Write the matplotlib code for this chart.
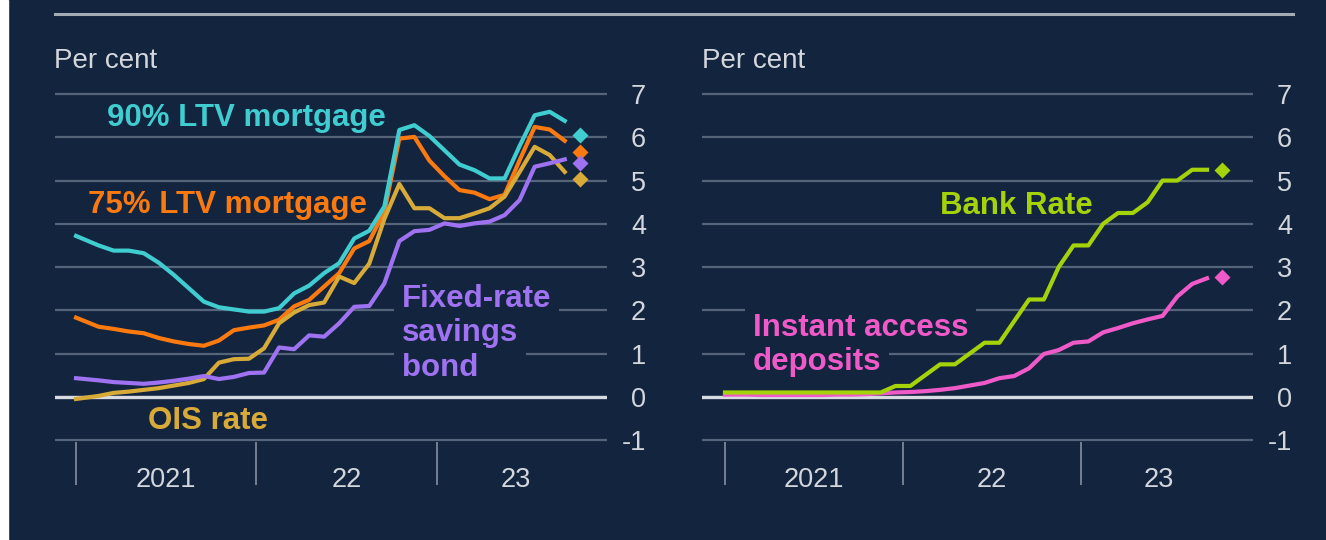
import numpy as np
import matplotlib
matplotlib.use('Agg')
from matplotlib import pyplot as plt
from matplotlib.lines import Line2D
from matplotlib.patches import Rectangle

plt.rcParams['font.family'] = 'Liberation Sans'
plt.rcParams['axes.unicode_minus'] = False

# Monthly observations Jan 2021 - Sep 2023, x = months since start of 2021 (mid-month)
months = np.arange(33) + 0.5
months[0] = 0.0  # series start at the left edge of 2021

ltv90 = [3.72, 3.50, 3.38, 3.38, 3.32, 3.10, 2.82, 2.51, 2.20, 2.07, 2.02, 1.97,
         1.97, 2.05, 2.39, 2.57, 2.86, 3.09, 3.66, 3.84, 4.40, 6.17, 6.28, 6.03,
         5.70, 5.37, 5.24, 5.05, 5.05, 5.80, 6.51, 6.59, 6.38]
ltv75 = [1.83, 1.62, 1.57, 1.51, 1.47, 1.36, 1.28, 1.22, 1.18, 1.30, 1.54, 1.60,
         1.65, 1.78, 2.09, 2.24, 2.55, 2.86, 3.43, 3.60, 4.28, 5.97, 6.01, 5.46,
         5.10, 4.78, 4.72, 4.57, 4.67, 5.47, 6.24, 6.18, 5.92]
ois_rate = [-0.05, 0.02, 0.09, 0.12, 0.16, 0.20, 0.26, 0.32, 0.41, 0.79, 0.87, 0.88,
            1.12, 1.70, 1.95, 2.12, 2.18, 2.78, 2.63, 3.08, 4.11, 4.92, 4.36, 4.36,
            4.13, 4.13, 4.24, 4.36, 4.63, 5.20, 5.78, 5.59, 5.20]
fixed_bond = [0.43, 0.38, 0.34, 0.32, 0.30, 0.33, 0.37, 0.42, 0.48, 0.41, 0.46, 0.55,
              0.56, 1.14, 1.10, 1.42, 1.39, 1.70, 2.08, 2.10, 2.62, 3.60, 3.83, 3.86,
              4.01, 3.95, 4.01, 4.05, 4.20, 4.55, 5.32, 5.40, 5.49]

bank_rate = [0.1, 0.1, 0.1, 0.1, 0.1, 0.1, 0.1, 0.1, 0.1, 0.1, 0.1, 0.25,
             0.25, 0.5, 0.75, 0.75, 1.0, 1.25, 1.25, 1.75, 2.25, 2.25, 3.0, 3.5,
             3.5, 4.0, 4.25, 4.25, 4.5, 5.0, 5.0, 5.25, 5.25]
instant_access = [0.05, 0.05, 0.04, 0.04, 0.04, 0.04, 0.04, 0.05, 0.05, 0.06, 0.08, 0.10,
                  0.11, 0.13, 0.16, 0.20, 0.26, 0.32, 0.43, 0.48, 0.66, 0.99, 1.08, 1.25,
                  1.28, 1.49, 1.59, 1.70, 1.79, 1.87, 2.32, 2.61, 2.74]

# Latest (Oct 2023) observations shown as diamonds
latest_month = 33.5
latest_ltv90 = 6.05
latest_ltv75 = 5.66
latest_fixed_bond = 5.40
latest_ois = 5.03
latest_bank_rate = 5.25
latest_instant = 2.76

year_starts = [0, 12, 24]
year_centres = [6, 18, 29.25]
year_labels = ['2021', '22', '23']
y_ticks = list(range(-1, 8))

# colours
bg = '#13243f'
grid_col = '#56647a'
text_col = '#d3d7dd'
cyan = '#3fcdd0'
orange = '#fb7a10'
gold = '#d8aa38'
purple = '#9f72f2'
green = '#a5d30a'
pink = '#f05ac8'

W, H = 1326, 540
fig = plt.figure(figsize=(W / 100, H / 100), dpi=100)
fig.patch.set_facecolor(bg)
fig.add_artist(Rectangle((0, 0), 8 / W, 1, transform=fig.transFigure, color='white'))
fig.add_artist(Line2D([55 / W, 1293 / W], [1 - 14 / H, 1 - 14 / H],
                      color='#a4abb5', lw=2.2, transform=fig.transFigure))

ax_bottom = (H - 442.2) / H
ax_height = 350.3 / H
ax1 = fig.add_axes([55 / W, ax_bottom, 552 / W, ax_height])
ax2 = fig.add_axes([702 / W, ax_bottom, 551 / W, ax_height])


def style_axis(ax, xlim):
    ax.set_facecolor(bg)
    ax.set_xlim(*xlim)
    ax.set_ylim(-1.05, 7.05)
    for s in ax.spines.values():
        s.set_visible(False)
    ax.set_yticks(y_ticks)
    ax.yaxis.tick_right()
    ax.tick_params(axis='y', length=0, pad=28, labelsize=19.5, labelcolor=text_col)
    plt.setp(ax.get_yticklabels(), ha='right')
    ax.grid(axis='y', color=grid_col, lw=1.6)
    ax.axhline(0, color='#d8dce2', lw=2.4, zorder=1.5)
    ax.set_xticks(year_starts, [''] * len(year_starts))
    ax.tick_params(axis='x', which='major', length=31, width=1.3, color='#7d8798', direction='out')
    ax.set_xticks(year_centres, year_labels, minor=True)
    ax.tick_params(axis='x', which='minor', length=0, pad=18, labelsize=19.5, labelcolor=text_col)
    ax.set_axisbelow(True)


style_axis(ax1, (-1.40, 35.31))
style_axis(ax2, (-1.55, 35.60))

lw = 3.0
ms = 8.3
# left panel
ax1.plot(months, ltv75, color=orange, lw=lw, zorder=3)
ax1.plot(months, ltv90, color=cyan, lw=lw, zorder=4)
ax1.plot(months, ois_rate, color=gold, lw=lw, zorder=3)
ax1.plot(months, fixed_bond, color=purple, lw=lw, zorder=3)

ax1.plot(latest_month, latest_ois, 'D', ms=ms, color=gold, mec='none', zorder=5)
ax1.plot(latest_month, latest_ltv75, 'D', ms=ms, color=orange, mec='none', zorder=5)
ax1.plot(latest_month, latest_fixed_bond, 'D', ms=ms, color=purple, mec='none', zorder=5)
ax1.plot(latest_month, latest_ltv90, 'D', ms=ms, color=cyan, mec='none', zorder=5)

# right panel
ax2.plot(months, instant_access, color=pink, lw=lw, zorder=3)
ax2.plot(months, bank_rate, color=green, lw=lw, zorder=4)
ax2.plot(latest_month, latest_bank_rate, 'D', ms=ms, color=green, mec='none', zorder=5)
ax2.plot(latest_month, latest_instant, 'D', ms=ms, color=pink, mec='none', zorder=5)

# series labels (below the lines, above the gridlines)
lab = dict(fontsize=22.5, fontweight='bold', va='baseline', ha='left', zorder=2.5)
box = dict(boxstyle='square,pad=0.25', fc=bg, ec='none')
ax1.text(2.06, 6.26, '90% LTV mortgage', color=cyan, **lab)
ax1.text(0.80, 4.25, '75% LTV mortgage', color=orange, **lab)
ax1.text(4.79, -0.75, 'OIS rate', color=gold, **lab)
for txt, yv in zip(['Fixed-rate', 'savings', 'bond'], [2.08, 1.28, 0.48]):
    ax1.text(21.67, yv, txt, color=purple, bbox=box, **lab)

ax2.text(14.50, 4.23, 'Bank Rate', color=green, **lab)
for txt, yv in zip(['Instant access', 'deposits'], [1.41, 0.62]):
    ax2.text(1.89, yv, txt, color=pink, bbox=box, **lab)

# 'Per cent' headers
fig.text(54 / W, 1 - 67.7 / H, 'Per cent', color=text_col, fontsize=20, va='baseline')
fig.text(702 / W, 1 - 67.7 / H, 'Per cent', color=text_col, fontsize=20, va='baseline')

plt.savefig('out.png', dpi=100, facecolor=fig.get_facecolor())
